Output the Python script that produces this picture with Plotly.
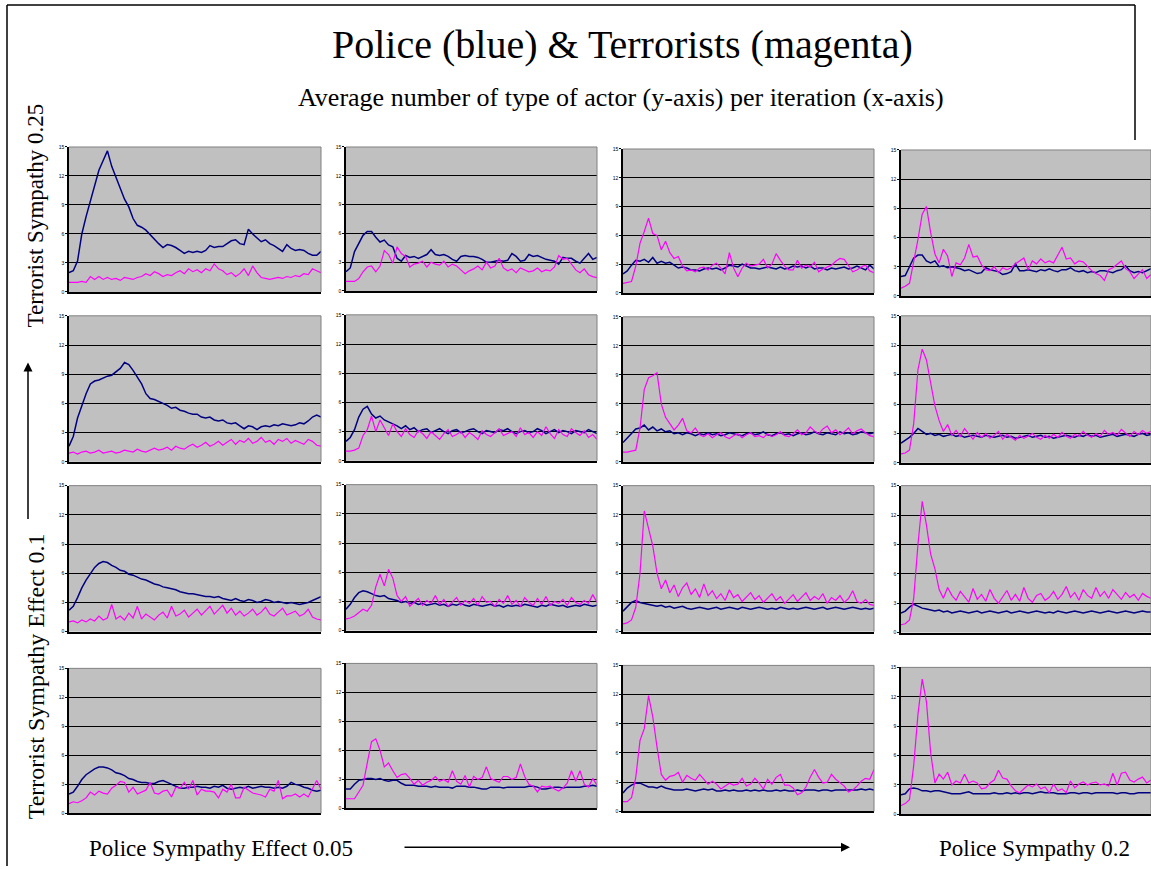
import plotly.graph_objects as go

# ---------------- data (average number of actors per iteration) ----------------
# Row 1 (top) ... Row 4 (bottom); Col 1 (left) ... Col 4 (right)
police_r1c1 = [2.0,2.2,3.2,6.0,7.8,9.4,11.0,12.6,13.6,14.6,13.0,11.8,10.6,9.6,8.8,7.6,6.9,6.7,6.4,5.9,
               5.5,5.0,4.6,4.9,4.8,4.6,4.3,4.0,4.2,4.1,4.2,4.1,4.3,4.8,4.6,4.7,4.7,5.0,5.3,5.4,
               5.0,4.9,6.5,6.0,5.6,5.2,5.4,5.0,4.8,4.5,4.2,4.9,4.5,4.3,4.4,4.3,4.0,3.8,3.8,4.2]
terror_r1c1 = [1.0,1.0,1.0,1.1,1.0,1.6,1.3,1.6,1.3,1.5,1.3,1.4,1.2,1.5,1.4,1.3,1.5,1.6,1.9,1.7,
               2.1,1.9,1.6,1.8,1.7,2.0,2.2,1.9,2.4,2.1,2.3,2.0,2.4,2.2,2.9,2.4,2.2,1.8,2.0,1.6,
               1.9,2.4,1.7,2.7,2.0,1.5,1.4,1.3,1.4,1.5,1.4,1.6,1.5,1.7,1.6,1.9,1.8,2.4,2.2,2.0]
police_r1c2 = [2.0,2.4,4.1,5.0,5.8,6.2,6.2,5.6,5.1,5.3,4.8,4.6,3.4,3.1,3.7,3.5,3.6,3.4,3.6,3.8,
               4.3,3.8,3.7,3.8,3.6,3.3,3.1,3.6,3.7,3.6,3.6,3.5,3.3,3.0,3.0,3.1,3.2,3.1,3.2,3.9,
               3.6,3.1,3.2,3.8,3.6,3.7,3.5,3.3,3.2,3.1,2.8,3.5,3.4,3.4,3.1,2.9,3.4,3.9,3.3,3.5]
terror_r1c2 = [1.0,1.0,1.0,1.3,2.0,2.5,2.6,2.0,2.6,4.2,3.8,2.9,4.6,3.9,3.6,2.5,2.8,2.9,3.1,2.5,
               3.0,2.8,2.7,3.1,2.5,2.8,2.6,2.2,1.8,2.1,2.3,2.6,2.2,3.0,2.4,2.6,3.4,2.4,2.1,2.3,
               1.9,2.4,2.2,2.0,2.1,2.4,2.0,2.2,2.1,2.5,3.7,3.3,3.4,2.8,2.2,1.9,2.3,1.7,1.5,1.4]
police_r1c3 = [2.0,2.3,2.9,3.4,3.3,3.5,3.2,3.7,3.1,3.3,3.1,3.2,2.9,2.6,2.7,2.6,2.4,2.4,2.3,2.5,
               2.6,2.5,2.6,2.4,2.6,2.9,2.8,2.7,3.0,2.8,2.6,2.6,2.5,2.6,2.7,2.6,2.5,2.7,2.5,2.6,
               2.8,2.7,2.8,2.6,2.8,2.5,2.6,2.6,2.4,2.6,2.5,2.6,2.7,2.5,2.6,2.8,2.6,2.4,2.9,2.5]
terror_r1c3 = [1.0,1.1,1.2,2.8,5.2,6.4,7.8,6.2,6.0,4.5,5.4,4.2,3.6,3.8,2.8,2.3,2.4,2.2,2.6,2.7,
               2.4,2.9,3.1,2.6,2.0,4.2,2.6,1.7,2.6,3.1,2.8,2.9,3.0,3.5,2.6,3.0,4.1,3.4,2.8,2.4,
               2.4,3.4,2.6,2.9,2.7,3.2,2.2,2.5,2.7,2.9,3.3,3.6,3.5,2.9,2.2,2.4,2.7,2.9,2.3,2.1]
police_r1c4 = [2.0,2.1,3.0,3.9,4.2,4.2,3.6,3.4,3.6,3.0,3.1,2.9,3.0,2.9,2.8,2.6,2.7,2.5,2.3,2.4,
               2.9,2.7,2.6,2.5,2.2,2.3,2.5,3.3,2.6,2.6,2.7,2.6,2.5,2.7,2.6,2.8,2.6,2.5,2.7,2.7,
               2.9,2.6,2.5,2.6,2.4,2.5,2.4,2.6,2.6,2.5,2.4,2.6,2.7,3.1,2.6,2.4,2.5,2.4,2.6,2.8]
terror_r1c4 = [0.8,1.0,1.3,3.4,5.8,8.4,9.2,6.5,4.3,3.4,4.8,4.1,2.0,3.4,3.2,3.9,5.3,4.0,4.1,3.2,
               2.7,2.6,3.0,2.4,2.9,2.7,2.9,3.3,3.6,3.9,2.7,3.6,3.3,3.8,3.4,3.6,3.4,4.2,5.0,3.8,
               3.9,3.3,3.6,3.5,3.0,2.6,2.3,2.1,1.6,2.7,2.9,3.3,3.6,2.8,2.5,1.8,2.2,2.7,1.8,2.2]

police_r2c1 = [1.6,2.6,4.5,5.8,7.0,8.0,8.3,8.4,8.6,8.8,8.9,9.3,9.6,10.2,10.0,9.4,8.7,8.0,7.0,6.5,
               6.4,6.2,6.0,5.8,5.5,5.6,5.3,5.2,5.0,4.9,4.9,4.6,4.5,4.6,4.3,4.2,4.3,4.0,3.9,4.0,
               3.7,3.4,3.7,3.6,3.3,3.6,3.7,3.6,3.8,3.7,3.9,3.8,3.7,3.8,4.0,3.9,4.2,4.6,4.8,4.6]
terror_r2c1 = [0.9,1.0,0.8,1.0,1.1,0.9,1.0,1.2,0.9,1.0,1.1,0.9,1.0,1.2,1.1,1.0,1.3,1.1,1.0,1.2,
               1.4,1.2,1.3,1.5,1.2,1.6,1.4,1.3,1.6,1.8,1.5,1.7,2.0,1.6,1.8,2.1,1.7,2.0,2.3,1.8,
               2.2,2.0,2.4,1.9,2.1,2.5,2.0,2.2,1.8,2.3,2.1,2.4,1.9,2.2,2.0,1.8,2.3,2.1,1.7,1.6]
police_r2c2 = [2.0,2.4,3.2,4.5,5.3,5.6,4.8,4.4,4.6,4.2,4.0,3.8,3.6,3.3,3.6,3.2,3.4,3.0,3.2,3.3,
               2.9,3.1,3.3,3.0,2.8,3.1,3.2,2.9,3.0,3.2,3.3,3.0,2.8,3.1,3.0,2.9,3.2,3.1,3.3,3.0,
               2.8,3.0,3.1,2.9,3.0,3.3,3.1,2.8,3.0,3.2,2.9,3.1,3.0,2.8,3.1,3.0,2.9,3.2,3.0,2.8]
terror_r2c2 = [1.0,1.0,1.1,1.3,2.6,3.2,4.6,3.0,4.2,3.4,2.6,3.8,3.0,2.5,3.3,2.7,2.4,3.1,2.8,2.3,
               3.0,2.6,2.2,2.8,3.2,2.5,2.7,3.0,2.4,2.9,2.6,2.2,3.1,2.7,2.5,2.9,3.3,2.6,2.8,3.0,
               2.5,3.4,2.7,2.9,2.4,3.0,2.6,3.5,2.8,2.3,3.2,2.7,2.5,3.3,2.9,2.6,3.1,2.4,2.7,2.2]
police_r2c3 = [2.0,2.5,3.0,3.4,3.5,3.8,3.3,3.6,3.2,3.4,3.1,3.2,2.9,3.0,2.8,3.0,2.9,2.7,2.9,2.8,
               3.0,2.8,2.9,2.7,2.8,3.0,2.9,2.8,2.7,2.9,3.0,2.8,2.9,3.1,2.8,2.7,2.9,3.0,2.8,2.9,
               2.7,2.9,3.0,2.8,2.9,3.1,2.9,2.8,3.0,2.9,2.8,3.1,2.9,3.0,2.8,2.9,3.1,3.0,2.9,3.0]
terror_r2c3 = [1.0,1.0,1.1,1.2,3.5,7.5,8.7,8.9,9.2,6.0,4.6,4.0,3.3,3.8,4.5,3.2,3.0,3.5,2.8,2.6,
               2.9,2.5,2.8,3.0,2.6,2.4,2.7,2.9,2.5,2.8,3.0,2.6,2.7,2.5,2.9,2.6,2.8,3.1,2.7,2.6,
               2.9,3.3,2.8,3.0,3.6,3.2,2.9,3.4,3.7,3.0,3.3,2.8,3.1,3.5,2.9,3.2,3.4,3.0,2.7,2.6]
police_r2c4 = [2.0,2.3,2.6,3.0,3.5,3.2,2.9,3.0,2.8,2.9,2.7,2.8,2.9,2.7,2.8,2.6,2.7,2.8,2.7,2.6,
               2.8,2.7,2.6,2.7,2.8,2.6,2.7,2.5,2.6,2.7,2.8,2.6,2.7,2.8,2.6,2.7,2.5,2.6,2.7,2.8,
               2.7,2.6,2.8,2.7,2.9,2.7,2.8,2.6,2.7,2.8,2.9,2.7,2.8,2.9,2.8,2.7,2.9,3.0,2.8,2.9]
terror_r2c4 = [0.9,1.0,1.3,4.0,9.5,11.6,10.5,8.2,5.8,4.3,3.2,3.9,2.8,3.3,2.7,3.5,2.9,2.4,3.1,2.6,
               3.0,2.5,2.8,3.2,2.4,2.9,2.6,2.3,2.8,2.5,2.7,3.0,2.6,2.4,2.8,2.5,2.9,2.6,3.1,2.7,
               2.5,2.9,2.7,3.2,2.8,2.6,3.0,2.7,3.3,2.9,3.1,2.8,3.4,3.0,2.7,3.2,2.9,3.3,3.0,3.2]

police_r3c1 = [2.2,2.6,3.5,4.5,5.3,6.0,6.6,7.0,7.2,7.1,6.8,6.6,6.3,6.2,5.9,5.8,5.6,5.4,5.3,5.1,
               4.9,4.8,4.6,4.5,4.4,4.3,4.1,4.0,3.9,3.9,3.8,3.7,3.6,3.6,3.5,3.6,3.4,3.3,3.2,3.4,
               3.2,3.1,3.3,3.2,3.0,3.1,3.3,3.2,3.0,3.1,3.0,2.9,3.0,2.9,2.8,2.9,3.0,3.2,3.4,3.6]
terror_r3c1 = [1.0,1.1,0.9,1.2,1.0,1.3,1.1,1.6,1.2,1.4,2.8,1.3,1.6,1.2,1.9,1.4,2.6,1.3,1.8,1.5,
               1.2,1.7,2.0,1.4,2.6,1.6,1.8,2.2,1.5,1.9,2.3,1.7,2.1,2.6,1.8,2.2,2.7,1.9,2.4,1.7,
               2.1,1.6,1.9,2.3,1.7,2.0,2.5,1.8,1.6,2.0,2.4,1.7,1.9,2.1,1.6,1.8,2.3,1.5,1.3,1.2]
police_r3c2 = [2.2,2.7,3.4,3.9,4.1,4.0,3.8,3.6,3.5,3.6,3.3,3.2,3.1,2.9,3.0,2.8,2.9,2.7,2.8,2.6,
               2.7,2.8,2.6,2.7,2.5,2.7,2.6,2.8,2.6,2.5,2.7,2.6,2.5,2.6,2.7,2.5,2.6,2.4,2.6,2.5,
               2.6,2.5,2.7,2.6,2.5,2.4,2.6,2.5,2.7,2.6,2.5,2.6,2.4,2.5,2.6,2.5,2.7,2.6,2.5,2.6]
terror_r3c2 = [1.2,1.3,1.5,1.9,2.2,2.0,2.6,4.5,5.8,4.6,6.3,5.4,3.6,3.0,3.5,2.5,2.9,3.3,2.6,3.1,
               2.8,3.6,2.7,3.2,2.5,3.0,3.4,2.6,3.1,2.8,3.3,2.6,3.5,2.9,3.0,2.5,3.2,2.8,3.6,2.7,
               3.1,2.5,3.4,2.9,2.6,3.3,2.7,3.5,2.6,3.0,2.8,3.2,2.6,3.4,2.9,2.7,3.1,2.8,3.7,2.9]
police_r3c3 = [2.1,2.6,3.0,3.2,3.0,2.9,2.8,2.7,2.6,2.7,2.5,2.6,2.4,2.5,2.6,2.4,2.3,2.4,2.5,2.4,
               2.3,2.4,2.5,2.3,2.4,2.5,2.4,2.3,2.5,2.4,2.3,2.4,2.5,2.4,2.3,2.4,2.3,2.5,2.4,2.3,
               2.4,2.3,2.4,2.5,2.4,2.3,2.4,2.5,2.3,2.4,2.5,2.4,2.3,2.4,2.5,2.4,2.3,2.4,2.3,2.4]
terror_r3c3 = [0.8,0.9,1.2,2.5,6.0,12.4,10.6,8.8,6.0,4.4,5.3,4.0,4.8,3.6,4.5,5.0,3.8,4.4,3.5,4.9,
               3.7,4.2,3.4,3.9,3.2,4.3,3.5,3.8,3.1,3.6,4.0,3.3,3.7,3.0,3.5,3.9,3.2,3.6,2.9,3.4,
               3.8,3.1,3.5,4.0,3.2,3.6,3.3,3.9,2.9,3.5,3.2,3.7,3.0,3.4,4.2,3.1,2.9,3.3,2.8,2.7]
police_r3c4 = [2.0,2.2,2.6,2.9,2.7,2.5,2.4,2.3,2.2,2.3,2.1,2.2,2.0,2.1,2.2,2.1,2.0,2.1,2.2,2.0,
               2.1,2.2,2.1,2.0,2.1,2.2,2.0,2.1,2.2,2.1,2.0,2.1,2.2,2.1,2.0,2.1,2.0,2.2,2.1,2.0,
               2.1,2.2,2.1,2.0,2.1,2.2,2.1,2.0,2.1,2.2,2.1,2.0,2.1,2.2,2.1,2.0,2.1,2.2,2.1,2.1]
terror_r3c4 = [0.8,0.9,1.3,3.5,9.0,13.4,11.0,8.0,6.5,4.4,3.5,4.6,3.8,3.3,4.2,3.6,3.1,4.5,3.4,3.9,
               3.2,4.4,3.5,3.0,3.7,4.3,3.3,3.9,3.2,4.6,3.5,3.1,3.8,4.0,3.3,3.6,4.2,3.4,3.9,4.7,
               3.6,4.1,3.3,4.4,3.8,3.5,4.6,3.7,4.2,3.5,4.4,3.9,3.4,4.1,3.6,3.9,3.3,4.0,3.7,3.5]

police_r4c1 = [2.0,2.2,2.8,3.5,4.0,4.3,4.6,4.8,4.8,4.7,4.5,4.2,4.1,3.9,3.6,3.5,3.3,3.2,3.2,3.1,
               3.1,3.3,3.4,3.2,3.0,2.8,2.6,2.6,2.7,2.7,2.8,2.7,2.7,2.6,2.8,2.7,2.9,2.6,2.5,2.6,
               2.7,2.6,2.8,2.6,2.7,2.8,2.7,2.7,2.6,2.7,2.6,2.8,3.2,3.0,2.9,2.7,2.6,2.4,2.3,2.4]
terror_r4c1 = [1.0,1.2,1.1,1.3,1.6,2.2,1.9,2.3,2.1,2.0,2.6,2.9,3.3,3.2,2.2,2.7,2.0,2.2,2.4,3.2,
               2.1,2.0,2.3,2.4,1.7,2.7,2.6,3.2,2.5,3.4,1.9,2.5,2.3,2.3,2.2,1.6,2.5,2.2,3.0,1.6,
               1.6,2.7,2.4,2.1,2.0,1.9,1.7,2.5,2.3,3.4,1.5,1.8,1.8,2.0,1.7,2.0,1.7,2.6,3.4,2.5]
police_r4c2 = [2.0,2.0,2.5,2.9,3.0,3.1,3.1,3.0,3.1,2.9,2.8,2.9,2.9,2.6,2.4,2.4,2.4,2.3,2.3,2.3,
               2.2,2.3,2.2,2.2,2.2,2.1,2.3,2.3,2.3,2.2,2.2,2.1,2.0,2.0,2.2,2.2,2.2,2.1,2.2,2.2,
               2.2,2.2,2.2,2.3,2.3,2.2,2.0,2.0,2.1,2.2,2.2,2.1,2.2,2.2,2.2,2.2,2.3,2.3,2.4,2.3]
terror_r4c2 = [1.0,1.0,1.0,1.7,2.4,4.7,6.9,7.2,6.0,4.3,4.7,3.9,3.2,3.5,3.6,3.1,2.5,2.9,2.4,2.7,
               2.9,3.3,2.8,3.0,2.7,3.9,2.8,2.5,3.4,2.2,3.3,3.0,3.2,4.3,3.1,2.9,2.7,3.3,3.3,3.0,
               3.2,4.6,3.3,2.5,2.3,1.7,2.3,2.2,2.3,2.0,1.8,2.1,2.6,3.9,2.8,3.9,2.5,2.2,3.1,2.4]
police_r4c3 = [1.9,2.4,2.7,2.9,2.9,2.7,2.5,2.5,2.4,2.6,2.4,2.3,2.2,2.2,2.2,2.3,2.2,2.1,2.2,2.3,
               2.2,2.3,2.1,2.1,2.2,2.1,2.2,2.1,2.1,2.2,2.1,2.2,2.1,2.2,2.1,2.1,2.2,2.1,2.2,2.1,
               2.1,2.2,2.1,2.2,2.2,2.2,2.1,2.2,2.2,2.1,2.2,2.2,2.2,2.2,2.2,2.2,2.3,2.2,2.3,2.2]
terror_r4c3 = [1.0,1.0,1.4,3.5,7.3,8.5,11.9,9.7,6.6,3.8,3.2,3.6,3.7,4.0,3.0,3.7,3.4,3.2,3.8,3.3,
               2.8,3.1,2.8,2.3,2.6,2.9,2.7,2.8,3.4,2.6,2.8,3.4,2.9,2.3,3.3,2.8,3.5,3.8,2.7,2.7,
               2.4,1.7,1.9,2.5,3.5,4.3,3.5,2.9,3.0,3.8,3.3,2.9,2.6,2.0,2.2,2.6,3.1,3.4,3.3,4.3]
police_r4c4 = [2.0,2.1,2.6,2.7,2.6,2.4,2.4,2.3,2.4,2.4,2.3,2.2,2.1,2.1,2.1,2.2,2.3,2.1,2.1,2.1,
               2.1,2.1,2.2,2.1,2.1,2.2,2.1,2.2,2.1,2.2,2.2,2.1,2.2,2.3,2.2,2.2,2.2,2.1,2.1,2.1,
               2.2,2.2,2.1,2.2,2.2,2.1,2.2,2.2,2.2,2.2,2.2,2.1,2.2,2.2,2.1,2.1,2.2,2.2,2.2,2.2]
terror_r4c4 = [0.9,1.1,1.5,5.0,10.2,13.8,11.5,6.3,3.2,4.1,3.6,4.3,3.0,3.4,3.2,4.1,3.2,3.4,3.2,2.6,
               2.7,3.2,3.5,4.5,3.7,3.6,2.9,2.4,2.2,2.6,3.0,2.8,3.1,2.6,2.8,2.2,3.1,2.4,2.6,2.2,
               3.4,2.7,3.1,3.3,3.0,3.2,3.3,3.0,3.1,2.9,4.2,3.0,4.2,4.3,3.5,3.3,3.6,3.8,3.2,3.5]

y_ticks = [0, 3, 6, 9, 12, 15]
title_text = "Police (blue) &amp; Terrorists (magenta)"
subtitle_text = "Average number of type of actor (y-axis) per iteration (x-axis)"
left_top_text = "Terrorist Sympathy 0.25"
left_bottom_text = "Terrorist Sympathy Effect 0.1"
bottom_left_text = "Police Sympathy Effect 0.05"
bottom_right_text = "Police Sympathy 0.2"

# ---------------- layout ----------------
W, H = 1151, 869
police = [[police_r1c1, police_r1c2, police_r1c3, police_r1c4],
          [police_r2c1, police_r2c2, police_r2c3, police_r2c4],
          [police_r3c1, police_r3c2, police_r3c3, police_r3c4],
          [police_r4c1, police_r4c2, police_r4c3, police_r4c4]]
terror = [[terror_r1c1, terror_r1c2, terror_r1c3, terror_r1c4],
          [terror_r2c1, terror_r2c2, terror_r2c3, terror_r2c4],
          [terror_r3c1, terror_r3c2, terror_r3c3, terror_r3c4],
          [terror_r4c1, terror_r4c2, terror_r4c3, terror_r4c4]]

col_px = [(69, 321), (346, 597), (623, 874), (901, 1152)]
row_px = [[(145, 291), (145, 290), (147, 292), (148, 295)],
          [(315, 462), (314, 461), (316, 462), (315, 463)],
          [(486, 633), (485, 632), (486, 633), (486, 634)],
          [(670, 816), (665, 811), (667, 814), (669, 817)]]

FONT = "Liberation Serif"
fig = go.Figure()
layout = dict(width=W, height=H, margin=dict(l=0, r=0, t=0, b=0),
              paper_bgcolor="white", plot_bgcolor="#C0C0C0", showlegend=False)
shapes = []
k = 0
for r in range(4):
    for c in range(4):
        k += 1
        xs = "" if k == 1 else str(k)
        pol = police[r][c]
        ter = terror[r][c]
        x0, x1 = col_px[c]
        y0, y1 = row_px[r][c]
        layout["xaxis" + xs] = dict(domain=[x0 / W, min(1.0, x1 / W)],
                                    range=[0, len(pol) - 1], showgrid=False,
                                    showticklabels=False, ticks="", zeroline=False,
                                    showline=True, linecolor="black", linewidth=1.5,
                                    anchor="y" + xs, fixedrange=True)
        layout["yaxis" + xs] = dict(domain=[1 - y1 / H, 1 - y0 / H], range=[0, 15],
                                    tickvals=y_ticks, ticktext=[str(v) for v in y_ticks],
                                    showgrid=True, gridcolor="black", gridwidth=1,
                                    zeroline=False, showline=True, linecolor="black",
                                    linewidth=1.5, ticks="outside", ticklen=2, tickwidth=1,
                                    tickcolor="black",
                                    tickfont=dict(size=5, family="Arial", color="black"),
                                    anchor="x" + xs, fixedrange=True)
        fig.add_trace(go.Scatter(x=list(range(len(pol))), y=pol, mode="lines",
                                 line=dict(color="#000080", width=1.5),
                                 xaxis="x" + xs, yaxis="y" + xs, hoverinfo="skip"))
        fig.add_trace(go.Scatter(x=list(range(len(ter))), y=ter, mode="lines",
                                 line=dict(color="#FF00FF", width=1.2),
                                 xaxis="x" + xs, yaxis="y" + xs, hoverinfo="skip"))
        # grey top / right border of plot area
        shapes.append(dict(type="line", xref="x" + xs + " domain", yref="y" + xs + " domain",
                           x0=0, x1=1, y0=1, y1=1, line=dict(color="#808080", width=1)))
        shapes.append(dict(type="line", xref="x" + xs + " domain", yref="y" + xs + " domain",
                           x0=1, x1=1, y0=0, y1=1, line=dict(color="#808080", width=1)))

# outer frame
shapes.append(dict(type="line", xref="paper", yref="paper", x0=7 / W, x1=7 / W, y0=0, y1=1 - 2 / H,
                   line=dict(color="black", width=1.5), layer="below"))
shapes.append(dict(type="line", xref="paper", yref="paper", x0=7 / W, x1=1135 / W,
                   y0=1 - 2 / H, y1=1 - 2 / H, line=dict(color="black", width=1.5), layer="below"))
shapes.append(dict(type="line", xref="paper", yref="paper", x0=1135 / W, x1=1135 / W,
                   y0=1 - 2 / H, y1=1 - 138 / H, line=dict(color="black", width=1.5), layer="below"))
layout["shapes"] = shapes


def px(xp, yp):
    return xp / W, 1 - yp / H


ann = []
def text(t, xp, yp, size, angle=0, xanchor="center"):
    x, y = px(xp, yp)
    ann.append(dict(text=t, x=x, y=y, xref="paper", yref="paper", showarrow=False,
                    xanchor=xanchor, yanchor="middle", textangle=angle,
                    font=dict(family=FONT, size=size, color="black")))

text(title_text, 622, 42, 40)
text(subtitle_text, 621, 95, 26)
text(left_top_text, 36, 214, 23, angle=-90)
text(left_bottom_text, 36, 678, 24, angle=-90)
text(bottom_left_text, 221, 851, 23)
text(bottom_right_text, 1034, 851, 23)

# arrows
ax_, ay_ = px(28, 362)
ann.append(dict(text="", x=ax_, y=ay_, xref="paper", yref="paper", showarrow=True,
                ax=0, ay=158, axref="pixel", ayref="pixel", arrowhead=2, arrowsize=1.2,
                arrowwidth=1.5, arrowcolor="black"))
bx_, by_ = px(850, 850)
ann.append(dict(text="", x=bx_, y=by_, xref="paper", yref="paper", showarrow=True,
                ax=-447, ay=0, axref="pixel", ayref="pixel", arrowhead=2, arrowsize=1.2,
                arrowwidth=1.5, arrowcolor="black"))
layout["annotations"] = ann

fig.update_layout(**layout)
fig.write_html("out.html", config={"displayModeBar": False},
               post_script="document.body.style.margin='0px';document.body.style.overflow='hidden';")
